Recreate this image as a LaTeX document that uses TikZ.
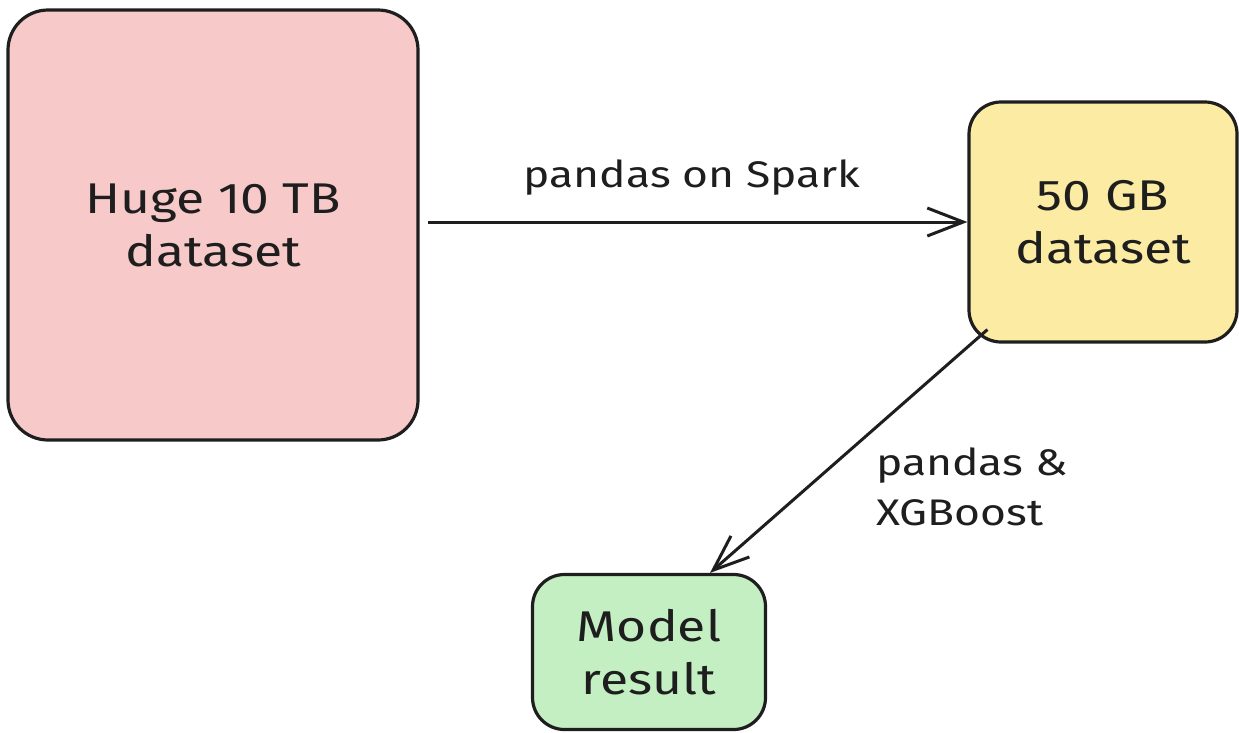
\documentclass[tikz,border=0pt]{standalone}
\usepackage{fontspec}
\setmainfont{Fira Sans}[FakeStretch=1.2]
\usetikzlibrary{arrows.meta}
\definecolor{pinkfill}{HTML}{F7C9C9}
\definecolor{yellowfill}{HTML}{FCEBA3}
\definecolor{greenfill}{HTML}{C4EFC2}
\definecolor{ink}{HTML}{1E1E1E}
\tikzset{
  boxstyle/.style={draw=ink, line width=3.2pt, text=ink, align=center, inner sep=0pt,
    font=\fontsize{43}{53}\selectfont},
  arr/.style={draw=ink, line width=3pt, -{Straight Barb[length=36pt,width=28pt,line width=3pt]}},
  lbl/.style={text=ink, inner sep=0pt, font=\fontsize{37}{50}\selectfont}
}
\begin{document}
\begin{tikzpicture}[x=1pt,y=-1pt]
\useasboundingbox (0,0) rectangle (1239,732);
\node[boxstyle, fill=pinkfill, minimum width=410pt, minimum height=430pt, rounded corners=40pt] (pink) at (213,225) {Huge 10 TB\\dataset};
\node[boxstyle, fill=yellowfill, minimum width=268pt, minimum height=240pt, rounded corners=32pt] (yellow) at (1103,222) {50 GB\\dataset};
\node[boxstyle, fill=greenfill, minimum width=233pt, minimum height=155pt, rounded corners=32pt] (green) at (649,652) {Model\\result};
\draw[arr] ([xshift=8pt,yshift=3pt]pink.east) -- (yellow.west);
\draw[arr] ([shift={(20pt,14pt)}]yellow.south west) -- ([xshift=61pt]green.north);
\node[lbl] (l1) at (692,178) {pandas on Spark};
\node[lbl, align=left, anchor=west] (l2) at (876,487) {pandas \&\\XGBoost};
\end{tikzpicture}
\end{document}
